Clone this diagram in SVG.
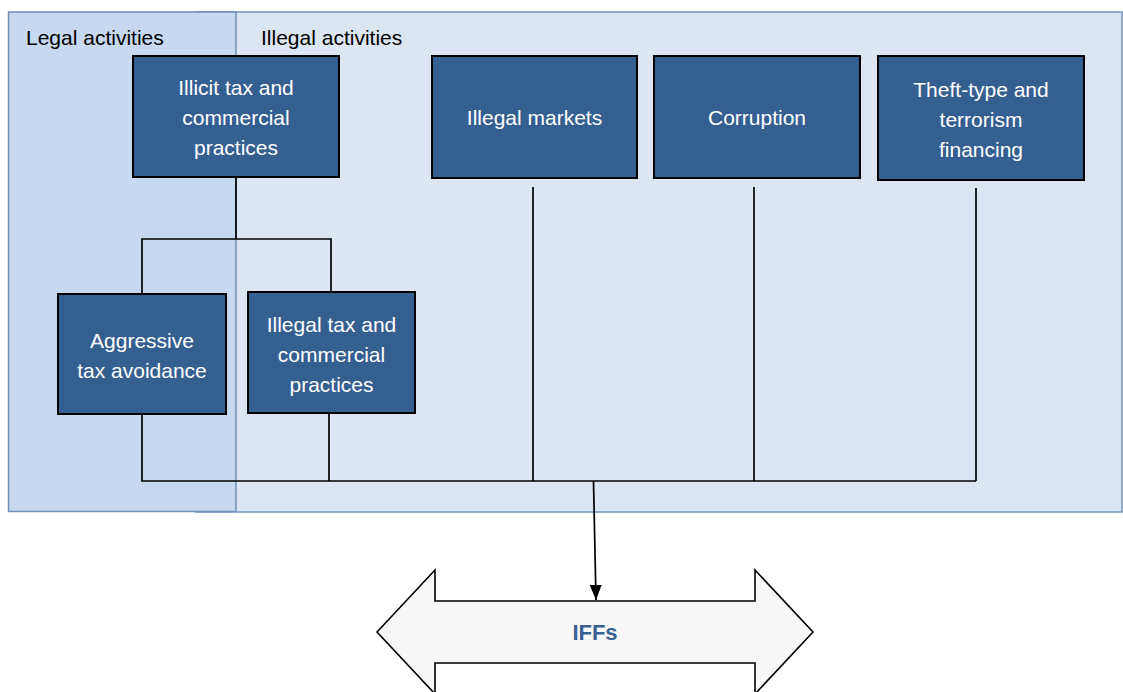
<svg xmlns="http://www.w3.org/2000/svg" width="1123" height="692" viewBox="0 0 1123 692">
<style>
.box{fill:#365f91;stroke:#000;stroke-width:2}
.bt{fill:#fff;font-family:"Liberation Sans",Arial,sans-serif;font-size:21px;text-anchor:middle}
.lbl{fill:#000;font-family:"Liberation Sans",Arial,sans-serif;font-size:21px}
.ln{fill:none;stroke:#000;stroke-width:1.7}
</style>
<defs>
<marker id="ah" markerWidth="15" markerHeight="12" refX="15" refY="6" orient="auto" markerUnits="userSpaceOnUse" viewBox="0 0 15 12">
<path d="M0,0 L15,6 L0,12 Z" fill="#000"/>
</marker>
</defs>
<rect id="illegal-panel" x="196" y="12" width="926" height="500" fill="#dce6f2" stroke="#7393bb" stroke-width="1.5"/>
<rect id="legal-panel" x="8.5" y="12" width="227.5" height="499.5" fill="#c6d9f0" stroke="#6f8fb8" stroke-width="1.5"/>
<text class="lbl" x="26" y="45">Legal activities</text>
<text class="lbl" x="261" y="45">Illegal activities</text>
<g id="connectors">
<path class="ln" d="M236,177 V239 M142,294 V239 H331 V292"/>
<path class="ln" d="M142,415 V481 H976 M329,414 V481 M533,187 V481 M754,187 V481 M976,188 V481"/>
<path class="ln" d="M593.5,481 L596,600" marker-end="url(#ah)"/>
</g>
<g id="n-illicit"><rect class="box" x="133" y="56" width="206" height="121"/>
<text class="bt" x="236" y="95">Illicit tax and</text><text class="bt" x="236" y="125">commercial</text><text class="bt" x="236" y="155">practices</text></g>
<g id="n-markets"><rect class="box" x="432" y="56" width="205" height="122"/>
<text class="bt" x="534.5" y="125">Illegal markets</text></g>
<g id="n-corruption"><rect class="box" x="654" y="56" width="206" height="122"/>
<text class="bt" x="757" y="125">Corruption</text></g>
<g id="n-theft"><rect class="box" x="878" y="56" width="206" height="124"/>
<text class="bt" x="981" y="97">Theft-type and</text><text class="bt" x="981" y="127">terrorism</text><text class="bt" x="981" y="157">financing</text></g>
<g id="n-aggressive"><rect class="box" x="58" y="294" width="168" height="120"/>
<text class="bt" x="142" y="348">Aggressive</text><text class="bt" x="142" y="378">tax avoidance</text></g>
<g id="n-illegaltax"><rect class="box" x="248" y="292" width="167" height="121"/>
<text class="bt" x="331.5" y="332">Illegal tax and</text><text class="bt" x="331.5" y="362">commercial</text><text class="bt" x="331.5" y="392">practices</text></g>
<g id="n-iffs">
<path d="M377,632 L435,570 V601 H755 V570 L813,632 L755,694 V663 H435 V694 Z" fill="#f8f8f8" stroke="#000" stroke-width="1.6"/>
<text x="595" y="640" fill="#3a6193" font-family="'Liberation Sans',Arial,sans-serif" font-size="22" font-weight="bold" text-anchor="middle">IFFs</text>
</g>
</svg>
